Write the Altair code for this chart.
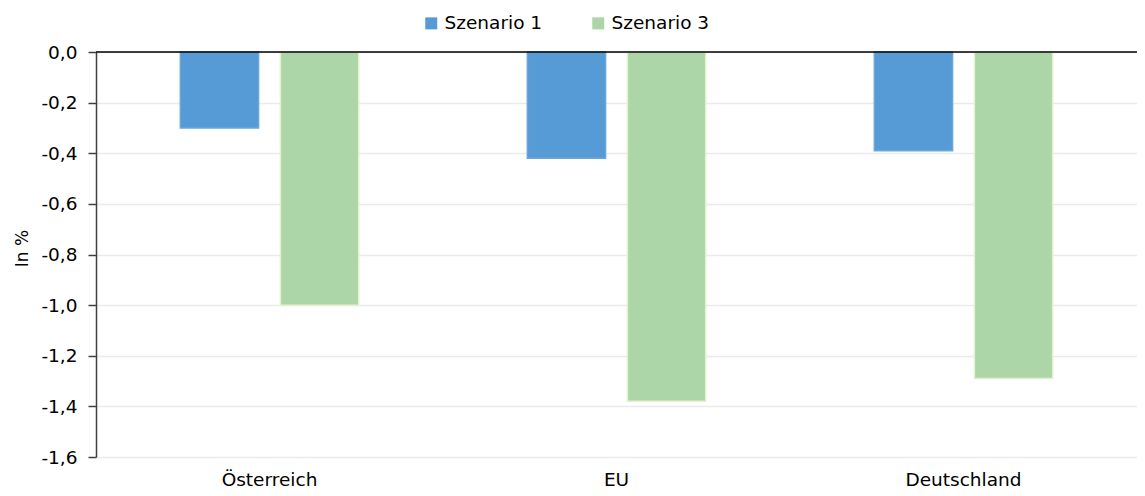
import altair as alt
import pandas as pd

countries = ["Österreich", "EU", "Deutschland"]
scenarios = ["Szenario 1", "Szenario 3"]
szenario1 = [-0.30, -0.42, -0.39]
szenario3 = [-1.00, -1.38, -1.29]
y_ticks = [0.0, -0.2, -0.4, -0.6, -0.8, -1.0, -1.2, -1.4, -1.6]
fill_colors = ["#569BD5", "#ACD6A7"]
stroke_colors = ["#6BA7DA", "#E4F1CF"]

rows = []
for i, c in enumerate(countries):
    rows.append({"Land": c, "Szenario": scenarios[0], "Wert": szenario1[i]})
    rows.append({"Land": c, "Szenario": scenarios[1], "Wert": szenario3[i]})
df = pd.DataFrame(rows)

FONT = "DejaVu Sans"

bars = alt.Chart(df).mark_bar(strokeWidth=1.5).encode(
    x=alt.X(
        "Land:N",
        sort=countries,
        scale=alt.Scale(paddingInner=0.486, paddingOuter=0.243),
        axis=alt.Axis(
            title=None, orient="bottom", domain=False, ticks=False, grid=False,
            labelAngle=0, labelFontSize=18.5, labelFont=FONT, labelColor="#000000",
            labelPadding=13,
        ),
    ),
    xOffset=alt.XOffset(
        "Szenario:N", sort=scenarios,
        scale=alt.Scale(paddingInner=0.218, paddingOuter=0),
    ),
    y=alt.Y(
        "Wert:Q",
        scale=alt.Scale(domain=[-1.6, 0], nice=False, zero=False),
        axis=alt.Axis(
            values=y_ticks,
            labelExpr="(datum.value < -0.0001 ? '-' : '') + replace(format(abs(datum.value), '.1f'), '.', ',')",
            title="In %",
            titleFontSize=17, titleFont=FONT, titleFontWeight="normal", titleColor="#000000",
            titleAngle=-90, titleX=-74, titleY=196, titleAlign="center", titleBaseline="middle",
            labelFontSize=18.5, labelFont=FONT, labelColor="#000000", labelPadding=11,
            domain=True, domainColor="#404040", domainWidth=1.5,
            ticks=True, tickSize=8, tickColor="#404040", tickWidth=1.5,
            grid=True, gridColor="#EBEBEB", gridWidth=1.5,
        ),
    ),
    color=alt.Color(
        "Szenario:N",
        scale=alt.Scale(domain=scenarios, range=fill_colors),
        legend=alt.Legend(
            title=None, orient="none", legendX=326, legendY=-38,
            direction="horizontal", symbolType="square", symbolSize=144,
            symbolStrokeWidth=0, labelFontSize=18.5, labelFont=FONT, labelColor="#000000",
            columnPadding=46, labelOffset=4, padding=0,
        ),
    ),
    stroke=alt.Stroke(
        "Szenario:N",
        scale=alt.Scale(domain=scenarios, range=stroke_colors),
        legend=None,
    ),
)

zero_rule = alt.Chart(pd.DataFrame({"y": [0.0]})).mark_rule(
    color="#000000", strokeWidth=1.5
).encode(y="y:Q")

chart = alt.layer(bars, zero_rule).properties(
    width=1041,
    height=405,
    autosize=alt.AutoSizeParams(type="none"),
    padding={"left": 88, "top": 44, "right": 0, "bottom": 38},
    background="#FFFFFF",
).configure_view(stroke=None).configure(font=FONT)

chart.save("out.html", embed_options={"renderer": "svg", "actions": False})
